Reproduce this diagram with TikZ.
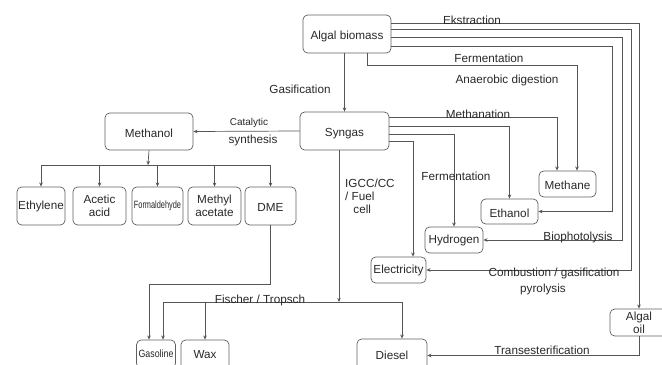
\documentclass[tikz,border=0pt]{standalone}
\usepackage{fontspec}
\setmainfont{Liberation Sans}
\usepackage{graphicx}
\usepackage{tikz}
\usetikzlibrary{arrows.meta, positioning, calc}
\definecolor{mydark}{RGB}{40,40,40}
\definecolor{myline}{RGB}{85,85,85}
\definecolor{myedge}{RGB}{95,95,95}
\tikzset{
  box/.style={rectangle, draw=myedge, rounded corners=4pt, line width=0.6pt,
    inner sep=0pt, align=center, text=mydark,
    font=\fontsize{10}{11}\selectfont},
  low/.style={text height=10pt, text depth=0pt},
  lbl/.style={text=mydark, inner sep=0pt, font=\fontsize{10}{11}\selectfont},
  arrow/.style={-{Stealth[length=3.5pt,width=3pt]}, line width=0.6pt, color=myline},
  line/.style={line width=0.6pt, color=myline}
}

\begin{document}
\begin{tikzpicture}[x=0.03cm, y=-0.03cm]
  \useasboundingbox (0,0) rectangle (662,365);
  \clip (0,0) rectangle (662,365);

  % Main boxes
  \node[box, low, minimum width=2.64cm, minimum height=1.14cm] (bio) at (347,34) {Algal biomass};
  \node[box, low, minimum width=2.67cm, minimum height=1.14cm] (syn) at (344.5,131) {Syngas};
  \node[box, low, minimum width=2.64cm, minimum height=1.11cm] (meth) at (149,131.5) {Methanol};

  % Methanol products
  \node[box, minimum width=1.44cm, minimum height=1.14cm] (eth) at (41,206) {Ethylene};
  \node[box, minimum width=1.59cm, minimum height=1.14cm] (acet) at (99.5,206) {Acetic\\acid};
  \node[box, minimum width=1.53cm, minimum height=1.14cm] (form) at (157.5,206)
    {\fontsize{9}{10}\selectfont\scalebox{0.7}[1]{Formaldehyde}};
  \node[box, minimum width=1.59cm, minimum height=1.14cm] (mace) at (214.5,206) {Methyl\\acetate};
  \node[box, low, minimum width=1.53cm, minimum height=1.14cm] (dme) at (270.5,206) {DME};

  % Right side products
  \node[box, low, minimum width=1.71cm, minimum height=0.78cm] (mthn) at (567.5,184) {Methane};
  \node[box, low, minimum width=1.71cm, minimum height=0.75cm] (etoh) at (509.5,211.5) {Ethanol};
  \node[box, minimum width=1.74cm, minimum height=0.78cm] (hyd) at (454,240) {Hydrogen};
  \node[box, minimum width=1.65cm, minimum height=0.78cm] (elec) at (398.5,270) {Electricity};
  \node[box, minimum width=1.74cm, minimum height=0.81cm] (oil) at (639,322.5) {Algal\\oil};

  % Fuels
  \node[box, minimum width=1.17cm, minimum height=0.84cm] (gas) at (156,354)
    {\fontsize{9}{10}\selectfont\scalebox{0.84}[1]{Gasoline}};
  \node[box, minimum width=1.44cm, minimum height=0.90cm] (wax) at (205,355) {Wax};
  \node[box, minimum width=2.10cm, minimum height=0.99cm] (dsl) at (392,355.5) {Diesel};

  % Bend points
  \coordinate (k2) at (631,0);
  \coordinate (k3) at (622,0);
  \coordinate (k4) at (612,0);
  \coordinate (fa) at (577,65);
  \coordinate (bus) at (148,165);
  \coordinate (ft) at (339,302);
  \coordinate (dg) at (149,284);

  % From algal biomass
  \draw[arrow] ([yshift=0.33cm]bio.east) -| (oil.north);
  \draw[arrow] ([yshift=0.15cm]bio.east) -| (k2 |- elec.east) -- (elec.east);
  \draw[arrow] ([yshift=-0.09cm]bio.east) -| (k3 |- hyd.east) -- (hyd.east);
  \draw[arrow] ([yshift=-0.36cm]bio.east) -| (k4 |- etoh.east) -- (etoh.east);
  \draw[arrow] ([xshift=0.6cm]bio.south) |- (fa) -- (fa |- mthn.north);
  \draw[arrow] (bio.south -| syn.north) -- (syn.north);

  % From syngas
  \draw[arrow] ([yshift=0.42cm]syn.east) -| ([xshift=-0.315cm]mthn.north);
  \draw[arrow] ([yshift=0.15cm]syn.east) -| (etoh.north);
  \draw[arrow] ([yshift=-0.09cm]syn.east) -| (hyd.north);
  \draw[arrow] ([yshift=-0.3cm]syn.east) -| ([xshift=0.435cm]elec.north);
  \draw[arrow] (syn.west) -- (meth.east);
  \draw[arrow] ([xshift=-0.165cm]syn.south) -- (ft);

  % Methanol routes
  \draw[arrow] (meth.south) -- (bus);
  \foreach \n in {eth,acet,form,mace,dme}
    \draw[arrow] (bus) -| (\n.north);

  % Fischer / Tropsch and DME
  \draw[arrow] (ft) -| ([xshift=0.21cm]gas.north);
  \draw[arrow] (ft) -| (wax.north);
  \draw[arrow] (ft) -| ([xshift=0.3cm]dsl.north);
  \draw[arrow] (dme.south) |- (dg) -- (dg |- gas.north);
  \draw[arrow] (oil.south) |- (dsl.east);

  % Labels
  \node[lbl] (l1) at (472,20) {Ekstraction};
  \node[lbl] (l2) at (489,58) {Fermentation};
  \node[lbl] (l3) at (507,80) {Anaerobic digestion};
  \node[lbl] (l4) at (300,89) {Gasification};
  \node[lbl] (l5) at (478,114) {Methanation};
  \node[lbl, font=\fontsize{8.5}{10}\selectfont] (l6) at (249,123) {Catalytic};
  \node[lbl] (l7) at (253,140) {synthesis};
  \node[lbl] (l8) at (456,176) {Fermentation};
  \node[lbl, align=left, anchor=north west] (l9) at (345,179) {IGCC/CC\\/ Fuel\\\hspace{0.7em}cell};
  \node[lbl] (l10) at (578,237) {Biophotolysis};
  \node[lbl] (l11) at (554,273) {Combustion / gasification};
  \node[lbl] (l12) at (543,289) {pyrolysis};
  \node[lbl] (l13) at (260,300) {Fischer / Tropsch};
  \node[lbl] (l14) at (542,350) {Transesterification};
\end{tikzpicture}
\end{document}
